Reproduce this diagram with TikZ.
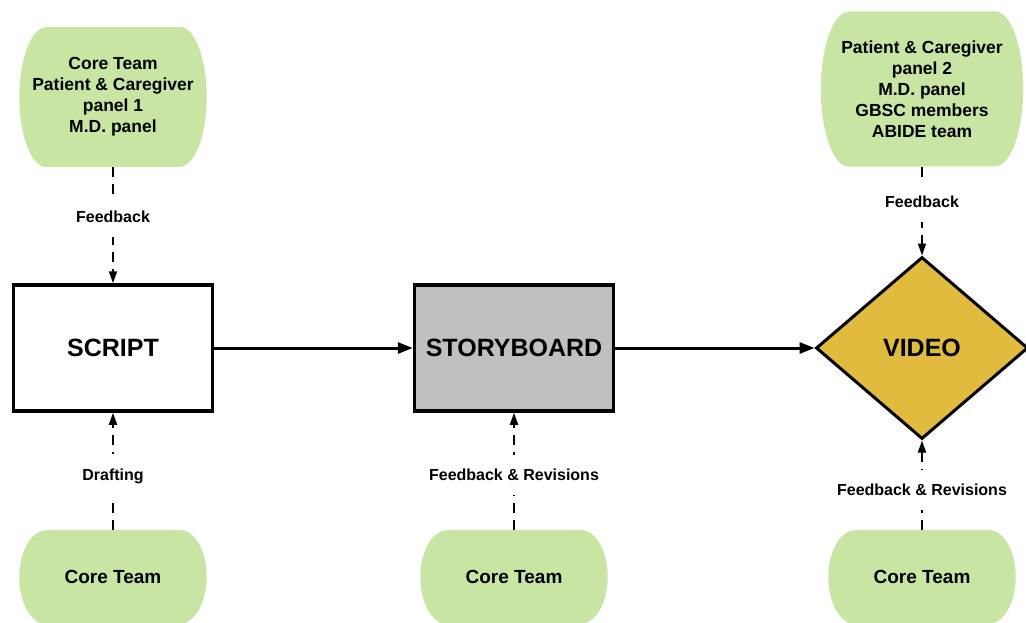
\documentclass[tikz,border=0pt]{standalone}
\usepackage{fontspec}
\setmainfont{Liberation Sans}
\usetikzlibrary{arrows.meta, shapes.geometric, backgrounds}
\definecolor{panelgreen}{HTML}{C9E5A4}
\definecolor{videogold}{HTML}{E1BB3D}
\definecolor{boardgray}{HTML}{C0C0C0}

% green pill behind a node: flat top and bottom, half-ellipse sides
\newcommand{\pillbg}[3]{%
  \fill[panelgreen] ([xshift=#2]#1.north west) -- ([xshift=-#2]#1.north east)
    arc[start angle=90, end angle=-90, x radius=#2, y radius=#3]
    -- ([xshift=#2]#1.south west)
    arc[start angle=270, end angle=90, x radius=#2, y radius=#3] -- cycle;}

\begin{document}
\begin{tikzpicture}[x=1pt, y=-1pt,
    panel/.style={rectangle, align=center, inner sep=0pt, font=\bfseries\fontsize{17.5}{21}\selectfont},
    core/.style={panel, minimum width=187pt, minimum height=94pt, font=\bfseries\fontsize{19}{22}\selectfont},
    stage/.style={draw, line width=3.5pt, minimum width=199pt, minimum height=126pt, font=\bfseries\fontsize{25}{30}\selectfont},
    decision/.style={diamond, draw, line width=3pt, fill=videogold, inner sep=0pt, minimum width=212pt, minimum height=182pt, font=\bfseries\fontsize{25}{30}\selectfont},
    flow/.style={line width=3pt, -{Triangle[length=15pt, width=11pt]}},
    review/.style={line width=1.8pt, dash pattern=on 10pt off 7pt, -{Triangle[length=12pt, width=8pt]}},
    lbl/.style={fill=white, inner xsep=2pt, inner ysep=14pt, font=\bfseries\fontsize{16}{19}\selectfont}]

  \useasboundingbox (0, 0) rectangle (1026, 622);

  % review panels
  \node[panel, minimum width=187pt, minimum height=140pt] (panel1) at (113, 97) {Core Team\\Patient \& Caregiver\\panel 1\\M.D. panel};
  \node[panel, minimum width=202pt, minimum height=155pt] (panel2) at (922, 89) {Patient \& Caregiver\\panel 2\\M.D. panel\\GBSC members\\ABIDE team};

  % stages
  \node[stage] (script) at (113, 348) {SCRIPT};
  \node[stage, fill=boardgray] (story) at (514, 348) {STORYBOARD};
  \node[decision] (video) at (922, 348) {VIDEO};

  % core team
  \node[core] (core1) at (113, 577) {Core Team};
  \node[core] (core2) at (514, 577) {Core Team};
  \node[core] (core3) at (922, 577) {Core Team};

  \begin{scope}[on background layer]
    \pillbg{panel1}{27pt}{70pt}
    \pillbg{panel2}{28pt}{77.5pt}
    \pillbg{core1}{27pt}{47pt}
    \pillbg{core2}{27pt}{47pt}
    \pillbg{core3}{27pt}{47pt}
  \end{scope}

  \draw[flow] (script) -- (story);
  \draw[flow] (story) -- (video);

  \draw[review] (panel1) -- node[lbl, pos=0.43] {Feedback} (script);
  \draw[review] (panel2) -- node[lbl, pos=0.40] {Feedback} (video);
  \draw[review] (core1) -- node[lbl, pos=0.46] {Drafting} (script);
  \draw[review] (core2) -- node[lbl, pos=0.47] {Feedback \& Revisions} (story);
  \draw[review] (core3) -- node[lbl, pos=0.45] {Feedback \& Revisions} (video);

\end{tikzpicture}
\end{document}
